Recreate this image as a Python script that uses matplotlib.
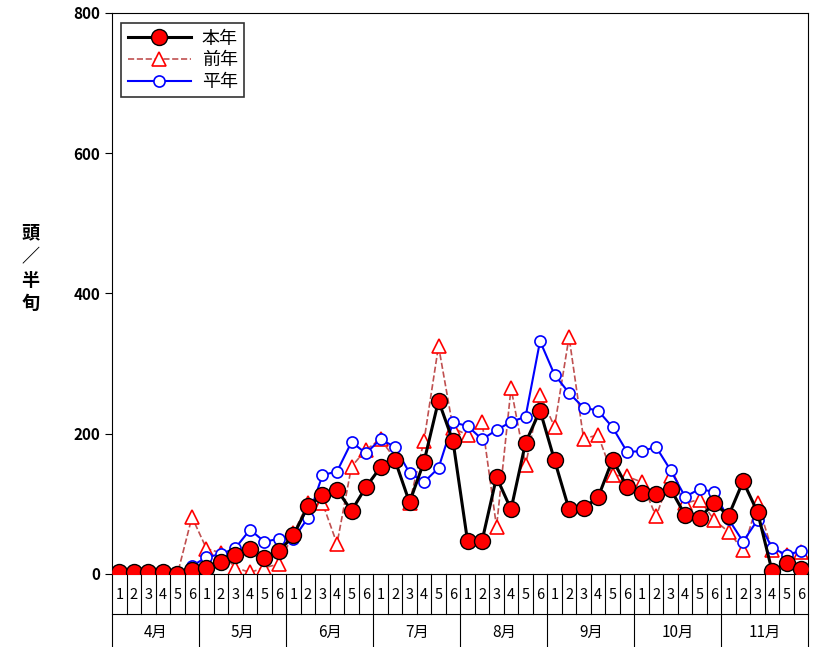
import matplotlib
matplotlib.use("Agg")
import matplotlib.pyplot as plt
from matplotlib.lines import Line2D

plt.rcParams['font.family'] = ['Noto Sans CJK JP', 'DejaVu Sans']

months = ['4月', '5月', '6月', '7月', '8月', '9月', '10月', '11月']
halves = ['1', '2', '3', '4', '5', '6']
honnen = [3,3,3,3,0,5, 8,17,27,35,22,32, 55,97,112,120,90,124, 152,162,102,160,247,189,
          47,47,138,92,187,233, 162,92,94,109,163,124, 115,114,121,84,80,101, 83,132,88,4,15,7]
zennen = [0,0,0,0,0,81, 36,30,9,2,9,14, 58,101,101,43,153,177, 192,164,101,190,325,208,
          198,217,67,265,155,255, 210,338,193,198,141,139, 131,82,139,101,106,77, 60,34,101,34,27,31]
heinen = [0,0,0,1,1,11, 24,28,37,63,46,50, 50,80,141,146,188,172, 192,181,144,131,151,216,
          211,192,205,217,224,332, 284,258,237,233,209,174, 175,181,148,110,121,117, 78,46,77,37,27,33]

fig = plt.figure(figsize=(8.19, 6.47), dpi=100)
ax = fig.add_axes([0.137, 0.113, 0.85, 0.867])
n = len(honnen)
x = list(range(n))
ax.plot(x, zennen, ls='--', color='#c05050', lw=1.2, marker='^', ms=10,
        mfc='white', mec='red', mew=1.2, label='前年', zorder=2)
ax.plot(x, heinen, ls='-', color='blue', lw=1.5, marker='o', ms=8,
        mfc='white', mec='blue', mew=1.2, label='平年', zorder=3)
ax.plot(x, honnen, ls='-', color='black', lw=2.2, marker='o', ms=11.5,
        mfc='red', mec='black', mew=1, label='本年', zorder=4)
ax.set_xlim(-0.5, n - 0.5)
ax.set_ylim(0, 800)
ax.set_yticks([0, 200, 400, 600, 800])
ax.set_yticklabels(['0', '200', '400', '600', '800'], fontweight='bold', fontsize=11)
ax.set_xticks([])
ax.tick_params(axis='y', direction='out', length=5)

tr = ax.get_xaxis_transform()
r1 = -0.071
r2 = -0.132
for i in range(n + 1):
    xe = i - 0.5
    bottom = r2 if i % 6 == 0 else r1
    ax.add_line(Line2D([xe, xe], [0, bottom], transform=tr, color='black', lw=0.8, clip_on=False))
ax.add_line(Line2D([-0.5, n - 0.5], [r1, r1], transform=tr, color='black', lw=0.8, clip_on=False))
for i in range(n):
    ax.text(i, -0.038, halves[i % 6], transform=tr, ha='center', va='center', fontsize=10.5)
for m, name in enumerate(months):
    ax.text(m * 6 + 2.5, -0.105, name, transform=tr, ha='center', va='center', fontsize=11)

fig.text(0.037, 0.585, '頭\n／\n半\n旬', ha='center', va='center', fontsize=13, fontweight='bold',
         linespacing=1.3)

h, l = ax.get_legend_handles_labels()
order = [2, 0, 1]
leg = ax.legend([h[i] for i in order], [l[i] for i in order], loc='upper left',
                bbox_to_anchor=(0.008, 0.988), fancybox=False, edgecolor='black',
                fontsize=13, handlelength=3.5, borderpad=0.35, labelspacing=0.2,
                handletextpad=0.6, borderaxespad=0.2)
leg.get_frame().set_linewidth(1.2)

fig.savefig('out.png', dpi=100)
